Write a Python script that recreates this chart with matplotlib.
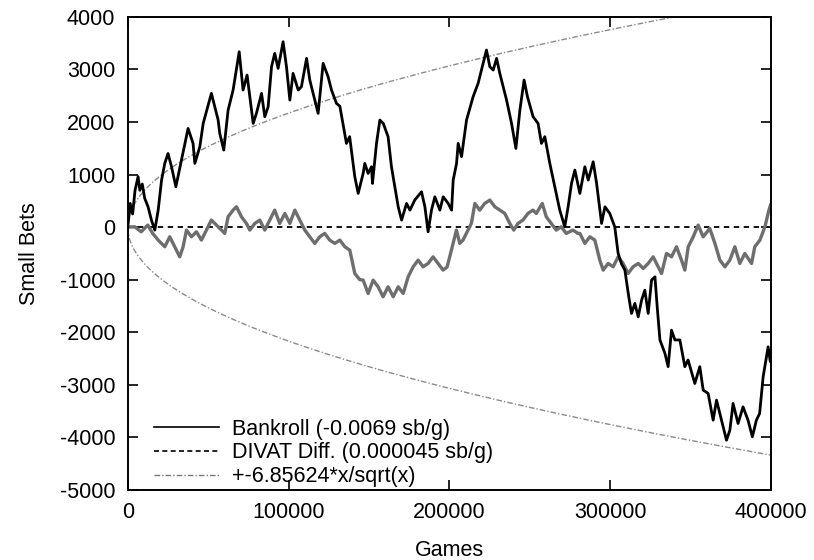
import numpy as np
import matplotlib
matplotlib.use("Agg")
import matplotlib.pyplot as plt
from matplotlib.lines import Line2D

plt.rcParams['font.family'] = ['Liberation Sans', 'DejaVu Sans']
plt.rcParams['axes.unicode_minus'] = False

# Bankroll, games in thousands / small bets
bank_games = [0, 1.5, 3, 4.5, 6.4, 7.5, 9, 10.5, 12.6, 14.7, 16.8, 18.9, 21, 23, 25,
              27.2, 29.9, 33.4, 37.5, 40.6, 41.7, 44.8, 46.9, 52, 56.2, 57.2, 59.7, 62.4,
              65.5, 69.3, 71.7, 74.2, 78, 80, 83.2, 85.2, 87.3, 89.4, 91.4, 93.5, 96.6,
              98.7, 100.8, 102.8, 106, 108, 111.2, 113.2, 118.4, 121.5, 124.6, 126.7,
              129.8, 131.9, 136, 138, 141.2, 143.3, 146.4, 147.4, 149.5, 151.6, 152.2,
              154.7, 156.8, 158.9, 161.9, 164, 166.1, 168.2, 170.3, 173.4, 175.5, 178.5,
              182.7, 184.8, 186.8, 188.9, 191, 194.1, 196.2, 199.3, 201.4, 202.4, 204.5,
              205.5, 207.6, 210.7, 214.8, 217.9, 221, 223.1, 225.2, 227.3, 229.4, 231.4,
              235.6, 238.7, 241.4, 243.9, 246.5, 248.6, 252.1, 255.2, 257.3, 259.4,
              262.5, 265.6, 268.7, 271.8, 273.9, 276, 278.1, 281.2, 284.3, 286.4, 289.5,
              291.6, 294.7, 296.8, 299.8, 302.9, 305, 307.1, 309.2, 311.3, 313.3, 315.4,
              317.5, 319.6, 321.6, 323.7, 325.8, 327.9, 329.3, 331, 334.1, 336.1, 338.2,
              340.3, 343.4, 346.5, 348.5, 352.7, 355.8, 357.9, 361, 364.1, 366.2, 369.3,
              372.4, 374.5, 376.5, 379.6, 382.7, 385.8, 388.5, 391, 393, 395.2, 398.3,
              399.6]
bank_vals = [0, 450, 250, 700, 960, 700, 820, 550, 387, 134, -57, 323, 894, 1212, 1400,
             1148, 767, 1275, 1877, 1592, 1212, 1528, 1973, 2544, 2036, 1783, 1465, 2226,
             2607, 3335, 2607, 2892, 1973, 2163, 2544, 2099, 2290, 3050, 3304, 3019, 3526,
             3050, 2416, 2924, 2607, 2670, 3209, 2797, 2163, 3114, 2860, 2607,
             2353, 2300, 1592, 1720, 957, 641, 1021, 1212, 1021, 1148, 831,
             1592, 2036, 1973, 1720, 1148, 767, 387, 134, 450, 323, 514,
             672, 387, -89, 323, 577, 323, 577, 450, 323, 894, 1212,
             1592, 1339, 2036, 2480, 2734, 3114, 3368, 3050, 2987, 3209, 2924,
             2416, 1973, 1497, 2226, 2797, 2480, 2099, 1973, 1592, 1720,
             1212, 767, 323, 6, 387, 831, 1085, 640, 1148, 894, 1243,
             831, 70, 387, 260, 6, -500, -700, -818, -1262, -1642, -1452,
             -1706, -1389, -1199, -1642, -1008, -945, -1516, -2146, -2400, -2654, -1960,
             -2146, -2146, -2654, -2527, -2974, -2654, -3100, -3164, -3672, -3291, -3672,
             -4053, -3862, -3354, -3735, -3419, -3672, -3989, -3672, -3545, -2848, -2277,
             -2550]

# DIVAT difference, games in thousands / small bets
divat_games = [0, 4.3, 8.3, 12.4, 15.5, 18.9, 23, 26.1, 29.2, 32.3, 34.4, 36.5, 39.6,
               42.7, 45.8, 48.9, 52, 55.2, 58.3, 60.3, 62.4, 65.5, 67.6, 70.7, 73.8, 75.9,
               79, 82.1, 85.2, 88.3, 91.4, 94.5, 97.7, 100.8, 103.9, 107, 110.1, 113.2,
               116.3, 119.4, 122.5, 125.6, 128.8, 131.9, 135, 138.1, 141.2, 144.3, 146.4,
               149.5, 152.6, 155.7, 158.8, 161.9, 165.1, 168.2, 171.3, 174.4, 177.5,
               180.6, 183.7, 186.8, 189.9, 193, 196.1, 198.6, 201.3, 204.4, 206.5, 208.5,
               211.6, 213.7, 215.9, 218.9, 222, 225.2, 228.3, 231.4, 234.5, 237.6, 240.1,
               242.7, 245.8, 248.9, 252, 254.1, 257.8, 260.3, 263.4, 266.5, 269.6, 272.7,
               276.9, 280, 281.2, 284.3, 287.4, 290.5, 293.6, 295.7, 298.8, 301.9, 305,
               308.1, 311.2, 314.3, 317.5, 320.6, 323.7, 326.8, 329.9, 332, 335.1, 338.2,
               341.3, 344.4, 346.5, 348.6, 351.7, 354.8, 357.9, 362, 365.2, 368.3, 371.4,
               374.5, 377.6, 380.7, 383.8, 388, 390, 393.2, 396.3, 398.8, 399.8]
divat_vals = [0, 6, -89, 38, -120, -247, -374, -184, -374, -565, -374, -57, -184,
              -89, -247, -57, 134, 38, -57, -120, 197, 323, 387, 197, 70, -57,
              70, 134, -57, 134, 323, 70, 260, 70, 323, 134, -57, -184,
              -310, -184, -120, -247, -310, -247, -374, -438, -882, -1000, -1008,
              -1262, -1008, -1135, -1325, -1135, -1325, -1135, -1262, -945, -755,
              -628, -755, -691, -565, -691, -818, -760, -438, -57, -310, -247,
              -57, 70, 450, 323, 450, 514, 387, 323, 260, 70, -57,
              70, 134, 260, 323, 260, 450, 197, 70, -57, 6, -120,
              -57, -120, -120, -310, -184, -247, -628, -818, -691, -755, -565,
              -691, -882, -755, -691, -786, -691, -565, -755, -882, -501, -565,
              -374, -628, -818, -374, -184, 38, -184, -25, -310, -628, -755,
              -628, -374, -691, -501, -691, -374, -247, 6, 323, 420]

bound_coef = 6.85624
legend_labels = ['Bankroll (-0.0069 sb/g)', 'DIVAT Diff. (0.000045 sb/g)',
                 '+-6.85624*x/sqrt(x)']

fig = plt.figure(figsize=(8.14, 5.6), dpi=100)
ax = fig.add_axes([0.157, 0.125, 0.790, 0.845])

bx = np.array(bank_games) * 1000
dx = np.array(divat_games) * 1000
gx = np.linspace(0, 400000, 800)
bound = bound_coef * gx / np.sqrt(np.maximum(gx, 1))

ax.plot(gx, bound, color='#8a8a8a', lw=1.0, ls=(0, (4, 1.5, 1, 1.5)))
ax.plot(gx, -bound, color='#8a8a8a', lw=1.0, ls=(0, (4, 1.5, 1, 1.5)))
ax.axhline(0, color='black', lw=1.3, ls=(0, (3, 2.5)))
ax.plot(dx, divat_vals, color='#6e6e6e', lw=2.4)
ax.plot(bx, bank_vals, color='black', lw=2.0)

ax.set_xlim(0, 400000)
ax.set_ylim(-5000, 4000)
ax.set_xticks([0, 100000, 200000, 300000, 400000])
ax.set_yticks(range(-5000, 4001, 1000))
ax.tick_params(direction='in', top=True, right=True, length=7, width=1.2,
               labelsize=15.5, pad=9)
for s in ax.spines.values():
    s.set_linewidth(1.4)
ax.set_xlabel('Games', fontsize=15.5, labelpad=12)
ax.set_ylabel('Small Bets', fontsize=15.5, labelpad=14)

handles = [Line2D([], [], color='black', lw=1.2),
           Line2D([], [], color='black', lw=1.2, ls=(0, (3, 2))),
           Line2D([], [], color='#777777', lw=1.0, ls=(0, (4, 1.5, 1, 1.5)))]
ax.legend(handles, legend_labels, loc='lower left', frameon=False,
          fontsize=15.5, handlelength=3.0, handletextpad=0.6,
          labelspacing=0.12, borderaxespad=0.0, bbox_to_anchor=(0.028, -0.012))

fig.savefig('out.png', dpi=100)
